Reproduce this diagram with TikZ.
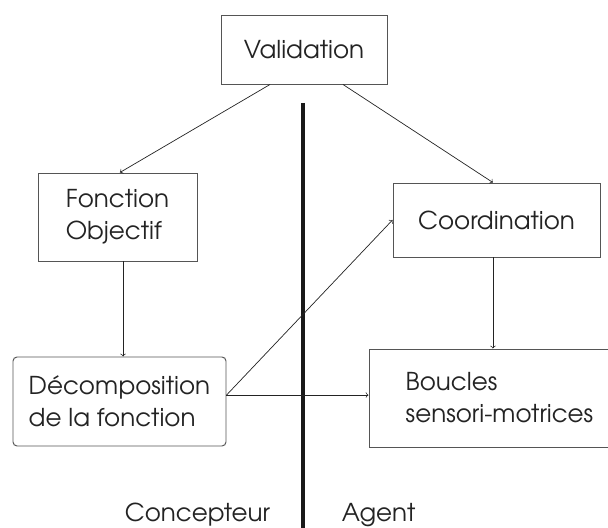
\documentclass[tikz,border=0pt]{standalone}
\usepackage{fontspec}
\setmainfont{TeX Gyre Adventor}
\usepackage{tikz}
\usetikzlibrary{arrows}

\definecolor{boxgray}{RGB}{85,85,85}
\definecolor{inkgray}{RGB}{35,35,35}

\tikzset{
  box/.style={draw=boxgray,line width=0.7pt,align=left,text=inkgray,
    inner sep=0pt,font=\fontsize{17.5}{22.8}\selectfont},
  rbox/.style={box,rounded corners=0.1cm},
  flow/.style={->,>=to,draw=inkgray,line width=0.5pt},
  sepline/.style={line width=0.1cm,color=black!90},
  side/.style={text=inkgray,font=\fontsize{17.5}{22.8}\selectfont}
}

\begin{document}
\begin{tikzpicture}
\useasboundingbox (0,0) rectangle (15.2,-13.2);

\node[box,minimum width=4.15cm,minimum height=1.725cm] (val) at (7.6,-1.2375) {Validation};
\node[box,minimum width=3.975cm,minimum height=2.2cm] (fonc) at (2.9375,-5.425) {Fonction\\Objectif};
\node[box,minimum width=5.175cm,minimum height=1.85cm] (coord) at (12.4125,-5.5) {Coordination};
\node[rbox,minimum width=5.325cm,minimum height=2.225cm] (dec) at (2.9875,-10.0375) {D\'ecomposition\\de la fonction};
\node[box,minimum width=6.525cm,minimum height=2.45cm] (bouc) at (12.4875,-9.95) {Boucles\\sensori-motrices};

\coordinate (sepTop) at (7.575,-2.575);
\coordinate (sepBot) at (7.575,-13.3);
\draw[sepline] (sepTop) -- (sepBot);

\draw[flow] ([xshift=-0.85cm]val.south) -- ([xshift=0.06cm]fonc.north);
\draw[flow] ([xshift=0.975cm]val.south) -- ([xshift=-0.09cm]coord.north);
\draw[flow] ([xshift=0.14cm]fonc.south) -- ([xshift=0.14cm]fonc.south |- dec.north);
\draw[flow] ([xshift=-0.09cm]coord.south) -- ([xshift=-0.09cm]coord.south |- bouc.north);
\draw[flow] ([yshift=0.16cm]dec.east) -- (coord.west);
\draw[flow] ([yshift=0.16cm]dec.east) -- ([yshift=0.16cm]dec.east -| bouc.west);

\node[side,anchor=base east] (conc) at (6.875,-13.05) {Concepteur};
\node[side,anchor=base west] (agent) at (8.425,-13.05) {Agent};
\end{tikzpicture}
\end{document}
